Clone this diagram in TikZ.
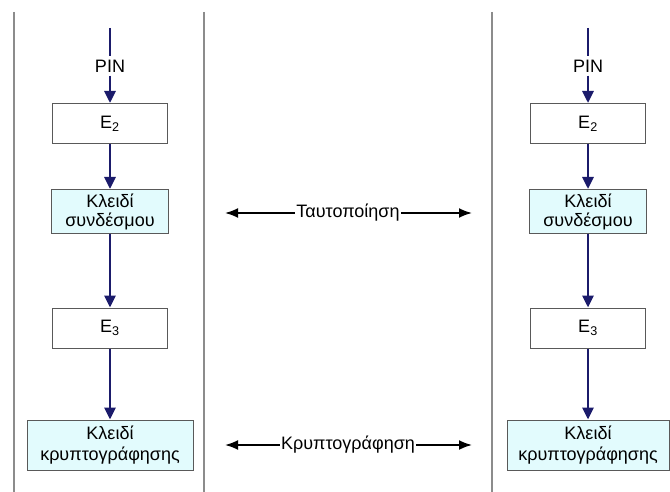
\documentclass[tikz,border=0pt]{standalone}
\usepackage{fontspec}
\setmainfont{Liberation Sans}
\usepackage{tikz}
\usetikzlibrary{arrows.meta}
\definecolor{navy}{HTML}{1B1B6B}
\definecolor{keycyan}{HTML}{E2FBFD}

\begin{document}
\begin{tikzpicture}[
      x=1pt, y=-1pt,
      every node/.style={font=\fontsize{18}{22}\selectfont},
      block/.style={draw=black!65, line width=1pt, fill=white, minimum width=115pt, minimum height=40pt, inner sep=2pt},
      keybox/.style={block, fill=keycyan, align=center},
      flow/.style={-{Triangle[length=12pt, width=11pt]}, navy, line width=2.8pt},
      wire/.style={navy, line width=2.8pt},
      link/.style={{Latex[length=13pt, width=10pt]}-{Latex[length=13pt, width=10pt]}, black, line width=1.8pt},
      divider/.style={draw=black!45, line width=1.8pt}
    ]
    \useasboundingbox (0,0) rectangle (670,492);
    \draw[divider] (14,12) -- (14,492);
    \draw[divider] (204,12) -- (204,492);
    \draw[divider] (492,12) -- (492,492);

    \coordinate (ltop) at (110,28);
    \node (lpin) at (110,66) {PIN};
    \node[block] (le2) at (110,123.5) {E\textsubscript{2}};
    \node[keybox, minimum width=117pt, minimum height=44pt] (llink) at (110,211.5) {Κλειδί\\[-3pt]συνδέσμου};
    \node[block] (le3) at (110,328) {E\textsubscript{3}};
    \node[keybox, minimum width=166pt, minimum height=50pt] (lenc) at (110,445) {Κλειδί\\[-1pt]κρυπτογράφησης};
    \draw[wire] (ltop) -- (lpin);
    \draw[flow] (lpin) -- (le2);
    \draw[flow] (le2) -- (llink);
    \draw[flow] (llink) -- (le3);
    \draw[flow] (le3) -- (lenc);

    \coordinate (rtop) at (588,28);
    \node (rpin) at (588,66) {PIN};
    \node[block] (re2) at (588,123.5) {E\textsubscript{2}};
    \node[keybox, minimum width=117pt, minimum height=44pt] (rlink) at (588,211.5) {Κλειδί\\[-3pt]συνδέσμου};
    \node[block] (re3) at (588,328) {E\textsubscript{3}};
    \node[keybox, minimum width=162pt, minimum height=50pt] (renc) at (588,445) {Κλειδί\\[-1pt]κρυπτογράφησης};
    \draw[wire] (rtop) -- (rpin);
    \draw[flow] (rpin) -- (re2);
    \draw[flow] (re2) -- (rlink);
    \draw[flow] (rlink) -- (re3);
    \draw[flow] (re3) -- (renc);

    \coordinate (authl) at (225,213);
    \coordinate (authr) at (472,213);
    \coordinate (encl) at (225,445);
    \coordinate (encr) at (472,445);
    \draw[link] (authl) -- (authr);
    \draw[link] (encl) -- (encr);
    \node[fill=white, inner sep=1pt] (auth) at (348,213) {Ταυτοποίηση};
    \node[fill=white, inner sep=1pt] (enc) at (348,445) {Κρυπτογράφηση};
  \end{tikzpicture}
\end{document}
